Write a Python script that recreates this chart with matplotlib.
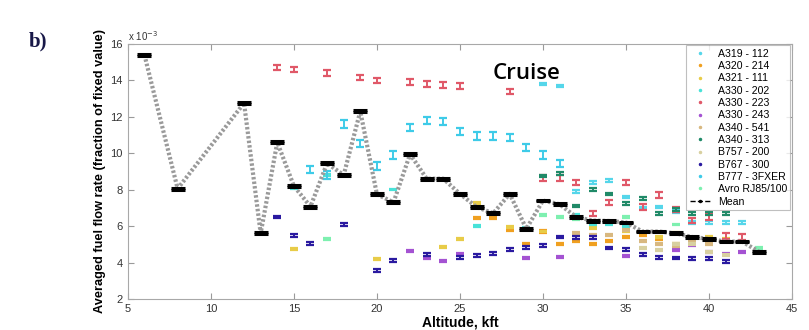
import numpy as np
import matplotlib
matplotlib.use("Agg")
import matplotlib.pyplot as plt
from matplotlib.lines import Line2D

# ==============================
# DATA  (fuel flow in units of 1e-3)
# ==============================
a319_x = [30, 31, 32, 33, 34, 35, 36, 37, 38, 39, 40, 41, 42]
a319_y = [13.8, 13.7, 7.9, 8.4, 8.5, 7.6, 7.0, 7.05, 6.8, 6.2, 6.2, 6.2, 6.2]

a320_x = [26, 27, 28, 29, 30, 31, 32, 33, 34, 35, 36, 37, 38, 39]
a320_y = [6.45, 6.45, 5.8, 5.0, 5.7, 5.0, 5.2, 5.0, 5.2, 5.4, 5.5, 5.3, 5.0, 5.2]

a321_x = [15, 20, 24, 25, 26, 28, 30, 33, 35, 36, 37, 38, 39, 40, 41]
a321_y = [4.75, 4.2, 4.85, 5.3, 7.25, 5.95, 5.7, 5.9, 5.7, 5.65, 5.4, 5.6, 5.3, 5.4, 5.3]

a330_202_x = [15, 17, 21, 26, 29, 32, 33, 34, 35]
a330_202_y = [8.1, 8.8, 8.0, 6.0, 5.9, 6.6, 6.1, 6.1, 6.0]

a330_223_x = [14, 15, 17, 19, 20, 22, 23, 24, 25, 28, 30, 31, 32, 33, 34, 35, 36, 37, 38, 39, 40, 41, 42]
a330_223_y = [14.7, 14.6, 14.4, 14.15, 14.0, 13.9, 13.8, 13.75, 13.7, 13.4, 8.65, 8.65, 8.4, 6.7,
              7.3, 8.4, 7.05, 7.7, 6.9, 6.3, 6.5, 5.45, 5.4]

a330_243_x = [22, 23, 24, 25, 29, 31, 35, 38, 39, 40, 41, 42]
a330_243_y = [4.65, 4.25, 4.1, 4.5, 4.25, 4.3, 4.35, 4.7, 4.95, 4.6, 4.45, 4.6]

a340_541_x = [32, 33, 34, 35, 36, 37, 38, 39, 40]
a340_541_y = [5.6, 5.5, 5.5, 5.8, 5.2, 5.0, 4.9, 5.1, 5.0]

a340_313_x = [30, 31, 32, 33, 34, 35, 36, 37, 38, 39, 40, 41]
a340_313_y = [8.75, 8.9, 7.1, 8.0, 7.75, 7.25, 7.5, 6.7, 6.9, 6.7, 6.7, 6.7]

b757_x = [36, 37, 38, 39, 40, 41]
b757_y = [4.8, 4.7, 5.0, 5.0, 4.6, 4.4]

b767_x = [14, 15, 16, 18, 20, 21, 23, 25, 26, 27, 28, 29, 30, 31, 32, 33, 34, 35, 36, 37, 38, 39, 40, 41]
b767_y = [6.5, 5.5, 5.07, 6.1, 3.55, 4.1, 4.45, 4.3, 4.4, 4.5, 4.7, 4.85, 4.95, 5.4, 5.35, 5.35,
          4.8, 4.7, 4.45, 4.3, 4.25, 4.2, 4.2, 4.05]

b777_x = [16, 17, 18, 19, 20, 21, 22, 23, 24, 25, 26, 27, 28, 29, 30, 31]
b777_y = [9.1, 8.8, 11.6, 10.55, 9.3, 9.9, 11.4, 11.8, 11.75, 11.2, 10.95, 10.95, 10.85, 10.3, 9.9, 9.45]

avro_x = [17, 30, 31, 32, 35, 38, 43]
avro_y = [5.3, 6.6, 6.5, 6.35, 6.5, 6.1, 4.8]

mean_x = [6, 8, 12, 13, 14, 15, 16, 17, 18, 19, 20, 21, 22, 23, 24, 25, 26, 27, 28, 29,
          30, 31, 32, 33, 34, 35, 36, 37, 38, 39, 40, 41, 42, 43]
mean_y = [15.4, 8.05, 12.75, 5.6, 10.6, 8.2, 7.07, 9.45, 8.8, 12.3, 7.75, 7.3, 9.95, 8.6, 8.6,
          7.77, 7.05, 6.7, 7.77, 5.85, 7.4, 7.2, 6.5, 6.3, 6.28, 6.2, 5.7, 5.7, 5.6, 5.4, 5.3,
          5.15, 5.15, 4.6]

series = [
    ("A319 - 112", a319_x, a319_y, "#55d6ea", 0.07),
    ("A320 - 214", a320_x, a320_y, "#f0a020", 0.06),
    ("A321 - 111", a321_x, a321_y, "#e8cc48", 0.05),
    ("A330 - 202", a330_202_x, a330_202_y, "#48e2d8", 0.04),
    ("A330 - 223", a330_223_x, a330_223_y, "#e05868", 0.15),
    ("A330 - 243", a330_243_x, a330_243_y, "#a452d2", 0.05),
    ("A340 - 541", a340_541_x, a340_541_y, "#d8b880", 0.06),
    ("A340 - 313", a340_313_x, a340_313_y, "#208a68", 0.07),
    ("B757 - 200", b757_x, b757_y, "#d8d0a0", 0.06),
    ("B767 - 300", b767_x, b767_y, "#2a1aa0", 0.08),
    ("B777 - 3FXER", b777_x, b777_y, "#3ecbe8", 0.2),
    ("Avro RJ85/100", avro_x, avro_y, "#7ef0b0", 0.04),
]

# ==============================
# PLOT
# ==============================
fig = plt.figure(figsize=(8.09, 3.30), dpi=100)
ax = fig.add_axes([0.158, 0.094, 0.821, 0.773])

handles = []
for name, xs, ys, col, err in series:
    ax.errorbar(xs, ys, yerr=err, fmt="none", ecolor=col, elinewidth=1.4,
                capsize=3, capthick=1.6, zorder=3)
    handles.append(Line2D([], [], color=col, marker=".", markersize=3, linestyle="none", label=name))

ax.plot(mean_x, mean_y, color="#9a9a9a", linestyle=(0, (0.6, 0.5)), linewidth=3.0, zorder=4)
ax.errorbar(mean_x, mean_y, yerr=0.05, fmt="none", ecolor="black", elinewidth=1.5,
            capsize=5, capthick=2.2, zorder=5)
handles.append(Line2D([], [], color="black", marker=".", markersize=3, linestyle="--",
                      linewidth=1, label="Mean"))

ax.set_xlim(5, 45)
ax.set_ylim(2, 16)
ax.set_xticks(range(5, 46, 5))
ax.set_yticks(range(2, 17, 2))
ax.tick_params(direction="in", top=True, right=True, labelsize=8, colors="#9a9a9a",
               labelcolor="#333333", length=4)
for lab in ax.get_xticklabels() + ax.get_yticklabels():
    lab.set_family("Liberation Sans")
for sp in ax.spines.values():
    sp.set_color("#a8a8a8")

ax.text(0.0, 1.005, r"x 10$^{-3}$", transform=ax.transAxes, fontsize=7,
        color="#333333", ha="left", va="bottom", family="Liberation Sans")

ax.set_xlabel("Altitude, kft", fontsize=10, fontweight="bold", family="Liberation Sans", labelpad=1)
ax.set_ylabel("Averaged fuel flow rate (fraction of fixed value)", fontsize=9.2,
              fontweight="bold", family=["Liberation Sans Narrow", "Liberation Sans"], labelpad=3)

ax.text(29.0, 14.4, "Cruise", fontsize=16, fontweight="semibold", family="Open Sans",
        ha="center", va="center", color="black")

fig.text(0.036, 0.86, "b)", fontsize=15, fontweight="bold", family="Liberation Serif",
         color="#181848")

leg = ax.legend(handles=handles, loc="upper right", frameon=True,
                fancybox=False, edgecolor="#b0b0b0", handlelength=2.0, handletextpad=0.7,
                labelspacing=0.22, borderpad=0.3, borderaxespad=0.15,
                prop={"family": "Liberation Sans", "size": 7.6})
leg.get_frame().set_linewidth(0.8)

plt.savefig("out.png", dpi=100)
